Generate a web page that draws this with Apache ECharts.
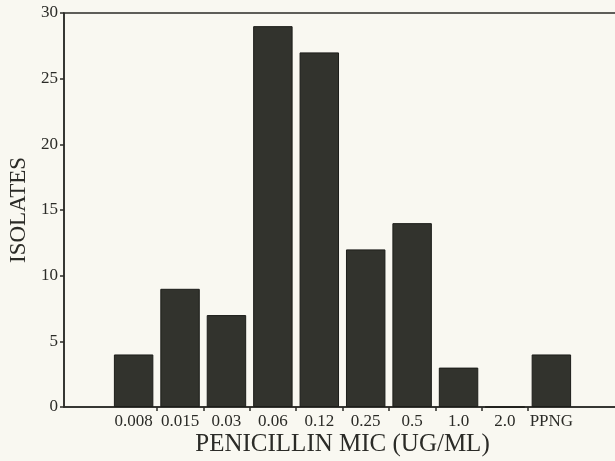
<!DOCTYPE html>
<html><head><meta charset="utf-8">
<script src="https://cdn.jsdelivr.net/npm/echarts@6/dist/echarts.min.js"></script>
<style>html,body{margin:0;padding:0;background:#f9f8f1;}#c{width:615px;height:461px;}</style>
</head><body><div id="c"></div>
<script>
const categories = ['', '0.008', '0.015', '0.03', '0.06', '0.12', '0.25', '0.5', '1.0', '2.0', 'PPNG', ''];
const isolates = [null, 4, 9, 7, 29, 27, 12, 14, 3, 0, 4, null];
const yTicks = [0, 5, 10, 15, 20, 25, 30];
const xTitle = 'PENICILLIN MIC (UG/ML)';
const yTitle = 'ISOLATES';

const ink = '#2b2b27';
const font = 'Liberation Serif';
const chart = echarts.init(document.getElementById('c'), null, {renderer: 'canvas'});
chart.setOption({
  backgroundColor: '#f9f8f1',
  animation: false,
  grid: {left: 64, right: -6, top: 13, bottom: 54, containLabel: false, outerBoundsMode: 'none',
    show: true, borderColor: ink, borderWidth: 1.5, backgroundColor: 'transparent'},
  xAxis: {
    type: 'category', data: categories,
    name: xTitle, nameLocation: 'middle', nameGap: 25, nameMoveOverlap: false,
    nameTextStyle: {fontFamily: font, fontSize: 25, color: ink},
    axisLine: {lineStyle: {color: ink, width: 1.5}},
    axisTick: {show: true, length: 4, lineStyle: {color: ink, width: 1.5},
      interval: function (i) { return i >= 2 && i <= 10; }},
    axisLabel: {fontFamily: font, fontSize: 17, color: ink, margin: 6, interval: 0}
  },
  yAxis: {
    type: 'value', min: yTicks[0], max: yTicks[yTicks.length - 1], interval: 5,
    name: yTitle, nameLocation: 'middle', nameGap: 34, nameRotate: 90,
    nameTextStyle: {fontFamily: font, fontSize: 23, color: ink},
    axisLine: {show: true, lineStyle: {color: ink, width: 1.5}},
    axisTick: {show: true, length: 4, lineStyle: {color: ink, width: 1.5}},
    splitLine: {show: false},
    axisLabel: {fontFamily: font, fontSize: 17, color: ink, margin: 6}
  },
  series: [{
    type: 'bar', data: isolates, barCategoryGap: '15%',
    itemStyle: {color: '#32332d', borderColor: '#1c1d19', borderWidth: 1}
  }]
});
</script></body></html>
